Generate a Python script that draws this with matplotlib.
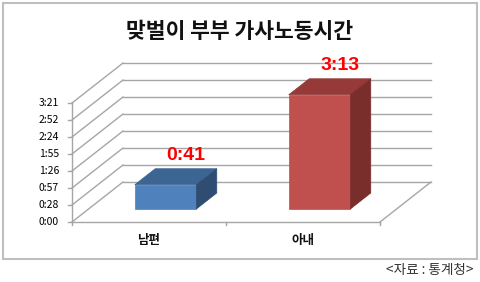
import matplotlib
matplotlib.use("Agg")
import matplotlib.pyplot as plt
from matplotlib.patches import Polygon, Rectangle

plt.rcParams['font.family'] = ['Noto Sans CJK KR', 'DejaVu Sans']

# ---- data ----
title = "맞벌이 부부 가사노동시간"
categories = ["남편", "아내"]
minutes = [41, 193]
tick_minutes = [0, 28.71, 57.43, 86.14, 114.86, 143.57, 172.29, 201]
tick_labels = ["0:00", "0:28", "0:57", "1:26", "1:55", "2:24", "2:52", "3:21"]
source = "<자료 : 통계청>"

front_colors = ["#4F81BD", "#C0504D"]
top_colors = ["#3D6594", "#953A38"]
side_colors = ["#2F4D72", "#7A2E2C"]

W, H = 480, 282
fig = plt.figure(figsize=(W / 100, H / 100), dpi=100)
ax = fig.add_axes([0, 0, 1, 1])
ax.axis('off')
ax.set_xlim(-72 / 154, 408 / 154)
ax.set_ylim(-60 / 0.592, 222 / 0.592)

# oblique depth vector (full depth) in data units
Dx, Dy = 51 / 154, 40 / 0.592
ncat = len(categories)
grid_c = "#A6A6A6"
glw = 1.0

# walls / gridlines
for t, lab in zip(tick_minutes, tick_labels):
    ax.plot([0, Dx], [t, t + Dy], color=grid_c, lw=glw, zorder=1)
    ax.plot([Dx, ncat + Dx], [t + Dy, t + Dy], color=grid_c, lw=glw, zorder=1)
    ax.plot([-4 / 154, 0], [t, t], color=grid_c, lw=glw, zorder=1)
    ax.text(-13 / 154, t, lab, ha='right', va='center', fontsize=7.5, color="#000000")
ax.plot([0, 0], [0, tick_minutes[-1]], color=grid_c, lw=glw, zorder=1)
ax.plot([0, ncat], [0, 0], color=grid_c, lw=glw, zorder=1)
ax.plot([ncat, ncat + Dx], [0, Dy], color=grid_c, lw=glw, zorder=1)
for i in range(ncat + 1):
    ax.plot([i, i], [0, -5], color=grid_c, lw=glw, zorder=1)

# bars
f0, f1 = 0.325, 0.725
bw = 0.4
dDx, dDy = (f1 - f0) * Dx, (f1 - f0) * Dy
for i, (cat, v) in enumerate(zip(categories, minutes)):
    x0 = i + 0.5 - bw / 2 + f0 * Dx
    x1 = i + 0.5 + bw / 2 + f0 * Dx
    y0 = f0 * Dy
    y1 = v + f0 * Dy
    ax.add_patch(Polygon([(x0, y0), (x1, y0), (x1, y1), (x0, y1)], closed=True,
                         facecolor=front_colors[i], edgecolor=front_colors[i], lw=0.5, zorder=3))
    ax.add_patch(Polygon([(x0, y1), (x1, y1), (x1 + dDx, y1 + dDy), (x0 + dDx, y1 + dDy)], closed=True,
                         facecolor=top_colors[i], edgecolor=top_colors[i], lw=0.5, zorder=3))
    ax.add_patch(Polygon([(x1, y0), (x1, y1), (x1 + dDx, y1 + dDy), (x1 + dDx, y0 + dDy)], closed=True,
                         facecolor=side_colors[i], edgecolor=side_colors[i], lw=0.5, zorder=3))
    label = f"{v // 60}:{v % 60:02d}"
    ax.annotate(label, ((x0 + x1) / 2 + dDx, y1 + dDy), xytext=(0, 9.5), textcoords='offset points',
                ha='center', va='center', fontsize=14, fontweight='bold', color='#FF0000',
                family=['Liberation Sans', 'DejaVu Sans'], zorder=5)
    ax.annotate(cat, (i + 0.5, 0), xytext=(0, -13), textcoords='offset points',
                ha='center', va='center', fontsize=9, fontweight='bold', color='#111111')

# title, source, frame
fig.text(239 / W, 1 - 32 / H, title, ha='center', va='center', fontsize=15.5,
         fontweight='bold', color='#111111')
fig.text(473 / W, 1 - 270 / H, source, ha='right', va='center', fontsize=9.8, color='#333333')
fig.patches.append(Rectangle((2.5 / W, 1 - 258.5 / H), 474 / W, 256 / H, transform=fig.transFigure,
                             fill=False, edgecolor='#BFBFBF', lw=1.5))

fig.savefig("out.png", dpi=100)
